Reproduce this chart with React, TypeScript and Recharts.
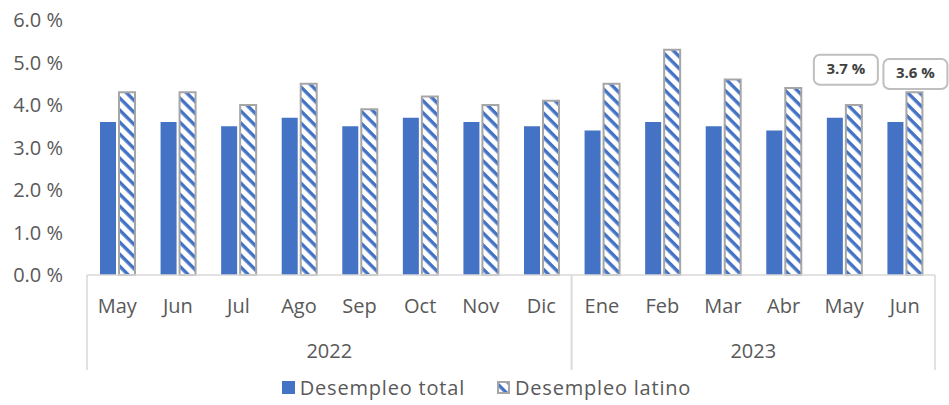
import { Bar, BarChart, LabelList, Legend, XAxis, YAxis } from "recharts";

const MONTHS = ["May", "Jun", "Jul", "Ago", "Sep", "Oct", "Nov", "Dic", "Ene", "Feb", "Mar", "Abr", "May", "Jun"];
const YEARS = ["2022", "2022", "2022", "2022", "2022", "2022", "2022", "2022", "2023", "2023", "2023", "2023", "2023", "2023"];
const TOTAL = [3.6, 3.6, 3.5, 3.7, 3.5, 3.7, 3.6, 3.5, 3.4, 3.6, 3.5, 3.4, 3.7, 3.6];
const LATINO = [4.3, 4.3, 4.0, 4.5, 3.9, 4.2, 4.0, 4.1, 4.5, 5.3, 4.6, 4.4, 4.0, 4.3];
const Y_TICKS = [0, 1, 2, 3, 4, 5, 6];
const LABELED = [12, 13];
const LABEL_DX = [11, 20];

const W = 949;
const H = 405;
const MARGIN = { top: 20, right: 14, bottom: 0, left: 0 };
const Y_W = 87;
const BAND = (W - MARGIN.right - Y_W) / MONTHS.length;

const BLUE = "#4472c4";
const TEXT = "#595959";
const LINE = "#d9d9d9";
const FONT = "'Open Sans', sans-serif";

const data = MONTHS.map((m, i) => ({ month: m, year: YEARS[i], total: TOTAL[i], latino: LATINO[i] }));

function MonthTick(props: any) {
  const { x, y, payload } = props;
  const i = payload.index;
  const first = i === 0 || YEARS[i - 1] !== YEARS[i];
  const last = i === YEARS.length - 1 || YEARS[i + 1] !== YEARS[i];
  const groupLen = YEARS.filter((v) => v === YEARS[i]).length;
  const left = x - BAND / 2;
  const top = y - 8;
  return (
    <g>
      <text x={x} y={top + 33} textAnchor="middle" dominantBaseline="middle" fill={TEXT} fontSize={20} fontFamily={FONT}>
        {payload.value}
      </text>
      {first && <line x1={left} x2={left} y1={top} y2={top + 95} stroke={LINE} strokeWidth={1.5} />}
      {last && <line x1={x + BAND / 2} x2={x + BAND / 2} y1={top} y2={top + 95} stroke={LINE} strokeWidth={1.5} />}
      {first && (
        <text x={left + (groupLen * BAND) / 2} y={top + 78} textAnchor="middle" dominantBaseline="middle" fill={TEXT} fontSize={20} fontFamily={FONT}>
          {YEARS[i]}
        </text>
      )}
    </g>
  );
}

function BoxLabel(props: any) {
  const { x, y, width, value, index } = props;
  const k = LABELED.indexOf(index);
  if (k < 0) return null;
  const cx = x + width / 2 + LABEL_DX[k];
  const cy = y - 48;
  return (
    <g>
      <rect x={cx - 32} y={cy - 15} width={64} height={30} rx={6} fill="#fff" stroke="#bfbfbf" strokeWidth={2} />
      <text x={cx} y={cy} textAnchor="middle" dominantBaseline="middle" fill="#404040" fontSize={15} fontWeight={700} fontFamily={FONT}>
        {Number(value).toFixed(1)} %
      </text>
    </g>
  );
}

function LegendBox() {
  const item = { display: "flex", alignItems: "center", gap: 5 };
  return (
    <div style={{ display: "flex", justifyContent: "center", gap: 32, marginLeft: 38, fontFamily: FONT, fontSize: 20, letterSpacing: 0.8, color: TEXT, paddingTop: 4 }}>
      <div style={item}>
        <svg width={13} height={13}>
          <rect width={13} height={13} fill={BLUE} />
        </svg>
        <span>Desempleo total</span>
      </div>
      <div style={item}>
        <svg width={13} height={13}>
          <rect x={1} y={1} width={11} height={11} fill="url(#stripes)" stroke="#a6a6a6" strokeWidth={2} />
        </svg>
        <span>Desempleo latino</span>
      </div>
    </div>
  );
}

export default function App() {
  return (
    <div style={{ position: "absolute", left: 0, top: 0, background: "#fff" }}>
      <svg width={0} height={0} style={{ position: "absolute" }}>
        <defs>
          <pattern id="stripes" patternUnits="userSpaceOnUse" width={8.5} height={8.5} patternTransform="rotate(45)">
            <rect width={8.5} height={8.5} fill="#fff" />
            <rect width={8.5} height={3.4} fill={BLUE} />
          </pattern>
        </defs>
      </svg>
      <BarChart width={W} height={H} data={data} margin={MARGIN} barSize={16} barGap={3}>
        <XAxis
          dataKey="month"
          interval={0}
          height={95}
          axisLine={{ stroke: LINE, strokeWidth: 1.5 }}
          tickLine={false}
          tick={<MonthTick />}
        />
        <YAxis
          width={Y_W}
          domain={[0, 6]}
          ticks={Y_TICKS}
          axisLine={false}
          tickLine={false}
          tickSize={8}
          tickMargin={16}
          tickFormatter={(v: number) => v.toFixed(1) + " %"}
          tick={{ fill: TEXT, fontSize: 20, fontFamily: FONT }}
        />
        <Legend verticalAlign="bottom" height={35} content={<LegendBox />} />
        <Bar dataKey="total" name="Desempleo total" fill={BLUE} isAnimationActive={false}>
          <LabelList dataKey="total" content={<BoxLabel />} />
        </Bar>
        <Bar dataKey="latino" name="Desempleo latino" fill="url(#stripes)" stroke="#a6a6a6" strokeWidth={2} isAnimationActive={false} />
      </BarChart>
    </div>
  );
}
